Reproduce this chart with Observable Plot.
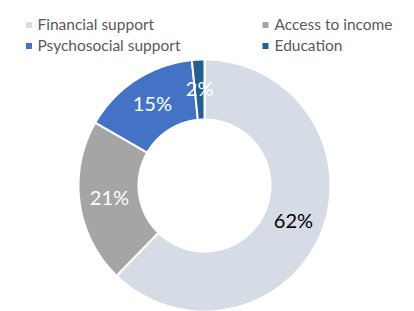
<!DOCTYPE html>
<html>
<head>
<meta charset="utf-8">
<script src="https://cdn.jsdelivr.net/npm/d3@7"></script>
<script src="https://cdn.jsdelivr.net/npm/@observablehq/plot@0.6"></script>
<style>
  html, body { margin: 0; padding: 0; background: #fff; }
  #chart svg { display: block; }
</style>
</head>
<body>
<div id="chart"></div>
<script>
// Data
const categories = ["Financial support", "Access to income", "Psychosocial support", "Education"];
const values = [62.3, 21.0, 15.1, 1.6];
const colors = ["#d6dce5", "#a5a5a5", "#4472c4", "#255e91"];
const labelColors = ["#000000", "#ffffff", "#ffffff", "#ffffff"];
// Legend order (two columns)
const legendOrder = ["Financial support", "Access to income", "Psychosocial support", "Education"];

const W = 414, H = 311;
const cx = 204, cy = 185, R = 126, innerFrac = 66 / 126;

const total = d3.sum(values);
const pie = d3.pie().sort(null).value(d => d.value).startAngle(0).endAngle(2 * Math.PI);
const arcs = pie(categories.map((c, i) => ({category: c, value: values[i], i})));

// Build slice polygons in unit coordinates (y up)
const poly = [];
for (const a of arcs) {
  const n = Math.max(8, Math.ceil((a.endAngle - a.startAngle) / 0.01));
  const pts = [];
  for (let k = 0; k <= n; k++) {
    const t = a.startAngle + (a.endAngle - a.startAngle) * k / n;
    pts.push([Math.sin(t), Math.cos(t)]);
  }
  for (let k = n; k >= 0; k--) {
    const t = a.startAngle + (a.endAngle - a.startAngle) * k / n;
    pts.push([innerFrac * Math.sin(t), innerFrac * Math.cos(t)]);
  }
  pts.push(pts[0]);
  for (const [x, y] of pts) poly.push({category: a.data.category, x, y});
}

const fmt = d3.format(".0%");
const midR = (1 + innerFrac) / 2;
const labels = arcs.map(a => {
  const m = (a.startAngle + a.endAngle) / 2;
  return {category: a.data.category, x: midR * Math.sin(m), y: midR * Math.cos(m),
          text: fmt(a.data.value / total), color: labelColors[a.data.i]};
});

const font = "Lato, 'Open Sans', sans-serif";
const legendPos = [[28.5, 37, 25], [265, 274, 25], [28.5, 37, 46], [265, 274, 46]];
const legendMarks = legendOrder.flatMap((c, i) => {
  const [mx, tx, y] = legendPos[i];
  return [
    Plot.dot([c], {frameAnchor: "top-left", dx: mx, dy: y - 0.5, symbol: "square", r: 3.4,
                   fill: d => d, stroke: null}),
    Plot.text([c], {frameAnchor: "top-left", dx: tx, dy: y, text: d => d, textAnchor: "start",
                    lineAnchor: "middle", fill: "#595959", fontSize: 15.5})
  ];
});

const chart = Plot.plot({
  width: W, height: H,
  margin: 0,
  style: {fontFamily: font, background: "#fff"},
  x: {domain: [-cx / R, (W - cx) / R], range: [0, W], axis: null},
  y: {domain: [-(H - cy) / R, cy / R], range: [H, 0], axis: null},
  color: {domain: categories, range: colors},
  marks: [
    Plot.line(poly, {x: "x", y: "y", z: "category", fill: "category", stroke: "#fff",
                     strokeWidth: 2, curve: "linear"}),
    Plot.text(labels, {x: "x", y: "y", text: "text", fill: d => d.color, fontSize: 20,
                       textAnchor: "middle", lineAnchor: "middle"}),
    ...legendMarks
  ]
});
document.getElementById("chart").appendChild(chart);
</script>
</body>
</html>
